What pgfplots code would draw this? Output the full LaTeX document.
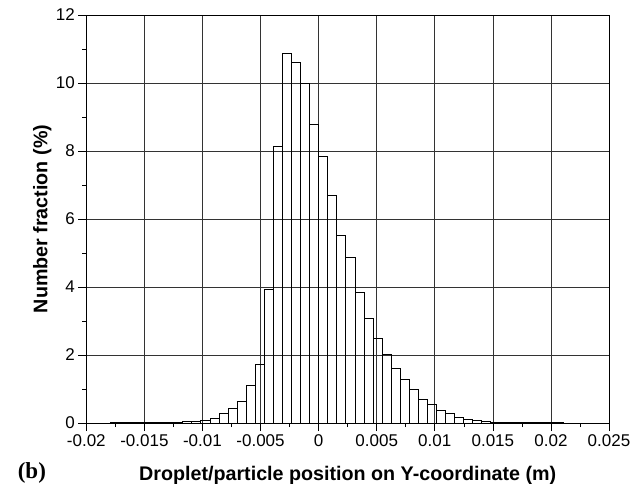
\documentclass[border=0pt]{standalone}
\usepackage{fontspec}
\setmainfont{Liberation Sans}
\newfontfamily\serifb{Liberation Serif}
\usepackage{pgfplots}
\pgfplotsset{compat=1.18}
\begin{document}
\begin{tikzpicture}
\useasboundingbox (-86.3bp,-61bp) rectangle (556.7bp,423bp);
\begin{axis}[
 at={(0,0)}, anchor=south west,
 scale only axis, width=522.7bp, height=408bp,
 xmin=-0.02, xmax=0.025, ymin=0, ymax=12,
 scaled x ticks=false, scaled y ticks=false,
 xtick={-0.02,-0.015,-0.01,-0.005,0,0.005,0.01,0.015,0.02,0.025},
 xticklabels={-0.02,-0.015,-0.01,-0.005,0,0.005,0.01,0.015,0.02,0.025},
 ytick={0,2,4,6,8,10,12}, yticklabels={0,2,4,6,8,10,12},
 minor x tick num=1, minor y tick num=1,
 tick align=outside, tick pos=left,
 major tick length=8bp, minor tick length=4bp,
 grid=major, major grid style={black!80, line width=0.6bp},
 axis line style={black, line width=0.7bp},
 every tick/.style={black, line width=0.6bp},
 tick label style={font=\fontsize{17bp}{20bp}\selectfont},
 xlabel={Droplet/particle position on Y-coordinate (m)},
 ylabel={Number fraction (\%)},
 every axis x label/.style={at={(axis description cs:0.5,-0.142)}, anchor=base, font=\bfseries\fontsize{19.7bp}{23bp}\selectfont},
 every axis y label/.style={at={(axis description cs:-0.0746,0.5)}, rotate=90, anchor=base, font=\bfseries\fontsize{19.7bp}{23bp}\selectfont},
]
\addplot[ybar interval, draw=black, fill=none, line width=0.7bp] table {
x y
-0.01794 0.01
-0.01716 0.01
-0.01638 0.01
-0.0156 0.01
-0.01482 0.01
-0.01404 0.01
-0.01326 0.015
-0.01248 0.02
-0.0117 0.04
-0.01092 0.06
-0.01014 0.09
-0.00936 0.15
-0.00858 0.29
-0.0078 0.42
-0.00702 0.63
-0.00624 1.10
-0.00546 1.73
-0.00468 3.93
-0.0039 8.13
-0.00312 10.87
-0.00234 10.62
-0.00156 9.99
-0.00078 8.78
0 7.85
0.00078 6.70
0.00156 5.52
0.00234 4.88
0.00312 3.83
0.0039 3.09
0.00468 2.48
0.00546 2.03
0.00624 1.60
0.00702 1.27
0.0078 0.98
0.00858 0.70
0.00936 0.54
0.01014 0.37
0.01092 0.27
0.0117 0.18
0.01248 0.12
0.01326 0.08
0.01404 0.05
0.01482 0.03
0.0156 0.02
0.01638 0.02
0.01716 0.015
0.01794 0.01
0.01872 0.01
0.0195 0.01
0.02028 0.01
0.02106 0.01
};
\end{axis}
\node[anchor=base west, font=\serifb\bfseries\fontsize{23bp}{27bp}\selectfont] at (-72bp,-55bp) {(b)};
\end{tikzpicture}
\end{document}
